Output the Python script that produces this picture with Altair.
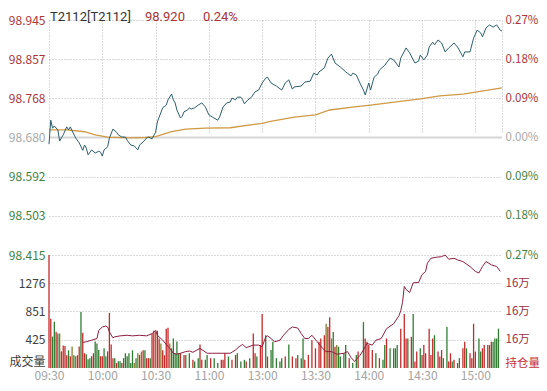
import altair as alt
import pandas as pd

FONT = "Noto Sans CJK SC"
HEAD_FONT = "Roboto"

# ---------------- data ----------------
time_labels = ['09:30', '10:00', '10:30', '11:00', '13:00', '13:30', '14:00', '14:30', '15:00', '']
prev_settle = 98.680
price_ticks = [98.415, 98.503, 98.592, 98.680, 98.768, 98.857, 98.945]
vol_ticks = [0, 425.33, 850.67, 1276]
oi_ticks = [159000, 160150, 161300, 162450]

price_minute = [0, 1, 2, 3, 5, 6, 8, 10, 11, 12, 13, 15, 17, 19, 20, 21, 22, 24, 26, 28, 29, 30, 31, 33, 34, 36, 38, 39,
                41, 43, 44, 46, 48, 50, 51, 53, 55, 56, 58, 60, 61, 62, 64, 66, 67, 69, 70, 71, 72, 74, 75, 76, 78, 79,
                80, 82, 84, 86, 88, 90, 92, 95, 96, 98, 100, 102, 103, 105, 106, 108, 109, 110, 112, 114, 116, 118,
                120, 122, 123, 125, 128, 131, 133, 135, 137, 138, 142, 144, 147, 149, 151, 152, 155, 157, 159, 161,
                164, 167, 168, 170, 171, 173, 175, 177, 178, 180, 181, 183, 185, 186, 189, 192, 194, 197, 198, 201,
                203, 206, 208, 209, 211, 213, 214, 216, 217, 219, 221, 223, 225, 228, 230, 233, 234, 237, 239, 241,
                243, 244, 246, 248, 250, 252, 254, 255]
price_value = [98.665, 98.719, 98.701, 98.706, 98.697, 98.672, 98.686, 98.704, 98.697, 98.704, 98.695, 98.679, 98.668,
               98.651, 98.663, 98.656, 98.641, 98.652, 98.645, 98.649, 98.647, 98.638, 98.652, 98.659, 98.679, 98.699,
               98.692, 98.686, 98.681, 98.681, 98.674, 98.663, 98.661, 98.652, 98.663, 98.670, 98.679, 98.681, 98.677,
               98.692, 98.715, 98.726, 98.747, 98.753, 98.765, 98.778, 98.765, 98.758, 98.742, 98.724, 98.728, 98.738,
               98.742, 98.747, 98.744, 98.747, 98.753, 98.758, 98.749, 98.731, 98.726, 98.719, 98.726, 98.749, 98.758,
               98.760, 98.769, 98.765, 98.771, 98.771, 98.765, 98.756, 98.765, 98.771, 98.783, 98.787, 98.803, 98.814,
               98.816, 98.803, 98.796, 98.787, 98.803, 98.810, 98.789, 98.794, 98.796, 98.805, 98.807, 98.825, 98.821,
               98.828, 98.837, 98.859, 98.868, 98.848, 98.839, 98.828, 98.825, 98.819, 98.825, 98.821, 98.803, 98.787,
               98.776, 98.803, 98.787, 98.816, 98.823, 98.832, 98.843, 98.859, 98.855, 98.839, 98.859, 98.882, 98.871,
               98.848, 98.852, 98.866, 98.855, 98.866, 98.884, 98.895, 98.889, 98.900, 98.893, 98.873, 98.882, 98.893,
               98.884, 98.862, 98.873, 98.873, 98.904, 98.922, 98.916, 98.907, 98.927, 98.934, 98.929, 98.934, 98.922,
               98.920]

avg_minute = [0, 10, 20, 26, 33, 45, 54, 60, 69, 77, 88, 102, 120, 124, 138, 150, 158, 172, 181, 209, 220, 233, 255]
avg_value = [98.697, 98.697, 98.693, 98.686, 98.681, 98.679, 98.680, 98.682, 98.693, 98.699, 98.701, 98.702, 98.712,
             98.716, 98.726, 98.731, 98.742, 98.749, 98.753, 98.767, 98.774, 98.778, 98.792]

vol_minute = list(range(0, 75)) + [
    76, 77, 79, 81, 82, 84, 85, 86, 88, 89, 91, 93, 95, 97, 98, 99, 101, 103, 105, 106, 108, 110, 111, 113, 115, 116,
    117, 119, 120, 122, 123, 125, 126, 128, 130, 131, 133, 135, 137, 139, 140, 142, 143, 144, 146, 148, 150, 152, 153,
    155, 156, 157, 158, 159, 160, 161, 162, 163, 164, 166, 167, 169, 171, 173, 174, 177, 178, 179, 180, 182, 184, 186,
    188, 189, 190, 192, 194, 195, 196, 198, 200, 201, 202, 204, 205, 206, 207, 209, 210, 211, 212, 214, 215, 216, 217,
    219, 220, 221, 222, 224, 225, 226, 227, 228, 230, 231, 233, 234, 235, 237, 238, 239, 240, 242, 243, 244, 245, 247,
    248, 249, 250, 251, 252, 253]
vol_value = [1700, 740, 473, 695, 547, 518, 518, 251, 340, 330, 192, 266, 177, 325, 192, 177, 192, 325, 843, 532,
             222, 207, 133, 148, 177, 222, 400, 370, 270, 177, 177, 296, 177, 251, 830, 355, 148, 148, 74, 100,
             100, 74, 148, 222, 177, 222, 74, 266, 74, 148, 222, 197, 247, 266, 266, 148, 148, 148, 518, 562,
             547, 562, 444, 370, 266, 192, 592, 606, 370, 296, 444, 222, 400, 222, 222,
             197, 197, 222, 123, 99, 148, 355, 123, 123, 197, 148, 148, 74, 123, 123, 222, 173, 123, 197, 222, 99, 123,
             99, 148, 518, 222, 173, 345, 813, 493, 173, 271, 395, 148, 99, 148, 173, 355, 173, 148, 197, 148, 444, 123,
             197, 419, 296, 395, 444, 493, 666, 617, 765, 444, 543, 321, 345, 321, 173, 222, 345, 148, 74, 197, 247,
             691, 444, 395, 345, 271, 222, 148, 123, 345, 444, 296, 296, 296, 345, 592, 813, 444, 444, 469, 813, 99,
             247, 296, 197, 345, 222, 592, 197, 444, 493, 247, 173, 271, 148, 617, 99, 222, 99, 123, 74, 148, 296,
             395, 296, 222, 148, 666, 247, 444, 247, 296, 345, 345, 345, 395, 395, 444, 444, 592]
vol_side = list("rrggrgorrr" "rgrogorrgr" "rgggrrgggr" "rggrrrrgrg" "grggggggog" "ororgrrgrr" "orrorrrrog"
                "ggggr"
                "rggrggrrgg" "rggrrrgrrg" "ggrgrrgrrg" "rgggggrgrr" "gggrrrrrrr" "orrogroggg" "grggrgrrrr"
                "grggrggggr" "rrgrgrrgrr" "rrrrgrrrgg" "rrgrrgrrgr" "rrrggrrrgr" "gggg")

oi_minute = [19, 21, 24, 27, 28, 30, 32, 33, 34, 36, 37, 40, 44, 47, 51, 55, 58, 60, 61, 62, 64, 66, 68, 70, 72, 74,
             77, 79, 81, 85, 89, 92, 98, 102, 105, 107, 109, 111, 115, 118, 120, 122, 123, 125, 127, 130, 132, 135,
             137, 140, 142, 144, 146, 148, 151, 154, 156, 159, 162, 166, 168, 170, 172, 175, 177, 179, 182, 184, 187,
             190, 194, 197, 198, 199, 200, 201, 203, 205, 208, 210, 212, 213, 215, 218, 221, 223, 225, 228, 230, 233,
             237, 240, 242, 244, 246, 249, 252, 254]
oi_value = [160040, 160068, 160132, 160200, 160532, 160668, 160708, 160668, 160468, 160228, 160268, 160308, 160332,
            160308, 160332, 160308, 160400, 160532, 160332, 160268, 160132, 159960, 159800, 159600, 159560, 159600,
            159668, 159692, 159640, 159800, 159600, 159600, 159600, 159600, 159732, 159868, 159960, 159828, 159932,
            159932, 159868, 160268, 160308, 160200, 160068, 160132, 160332, 160572, 160668, 160628, 160400, 160200,
            160200, 160332, 160068, 159800, 159668, 159668, 159560, 159600, 159668, 159428, 159268, 159508, 159732,
            160000, 159932, 160132, 160200, 160600, 160800, 161132, 161332, 161668, 162320, 162200, 162068, 162468,
            162480, 162800, 162932, 163268, 163468, 163508, 163532, 163600, 163428, 163468, 163400, 163332, 163132,
            162932, 162868, 163132, 163332, 163200, 163132, 162932]

n = min(len(vol_minute), len(vol_value), len(vol_side))
price_df = pd.DataFrame({"m": price_minute, "p": price_value})
avg_df = pd.DataFrame({"m": avg_minute, "p": avg_value})
vol_df = pd.DataFrame({"m": vol_minute[:n], "v": vol_value[:n], "s": vol_side[:n]})
oi_df = pd.DataFrame({"m": oi_minute, "oi": oi_value})
base_df = pd.DataFrame({"p": [prev_settle]})

# ---------------- layout ----------------
PLOT_W, PLOT_H = 453, 348
PRICE_BOTTOM = 235          # pixel row where the price panel ends / volume panel begins

x_enc = alt.X("m:Q", title=None,
              scale=alt.Scale(domain=[0, 255], nice=False, zero=False),
              axis=alt.Axis(values=[0, 30, 60, 90, 120, 150, 180, 210, 240, 255],
                            labelExpr="%s[round(datum.value / 30)]" % str(time_labels),
                            grid=True, labelColor="#a3a3a3", labelPadding=2, labelFlush=False,
                            labelFontSize=12))
price_scale = alt.Scale(domain=[98.415, 98.945], range=[PRICE_BOTTOM, 0], nice=False, zero=False)
vol_scale = alt.Scale(domain=[0, 1701], range=[PLOT_H, PRICE_BOTTOM], nice=False, zero=True)
oi_scale = alt.Scale(domain=[159000, 163600], range=[PLOT_H, PRICE_BOTTOM], nice=False, zero=False)

color_expr = "datum.value > 98.69 ? '#ad3539' : (datum.value < 98.67 ? '#3f7f3f' : '#a8a8a8')"

price_left = alt.Axis(orient="left", values=price_ticks, format=".3f", grid=True,
                      labelColor={"expr": color_expr}, labelPadding=4)
price_right = alt.Axis(orient="right", values=price_ticks, grid=False, labelFontSize=11.5,
                       labelExpr="format(abs(datum.value - %s) / %s * 100, '.2f') + '%%'" % (prev_settle, prev_settle),
                       labelColor={"expr": color_expr}, labelPadding=3)
vol_left = alt.Axis(orient="left", values=vol_ticks, grid=True, labelFlush=True,
                    labelExpr="datum.value == 0 ? '成交量' : format(datum.value, '.0f')",
                    gridOpacity={"expr": "datum.value == 0 ? 0 : 1"},
                    labelColor="#404040", labelPadding=4)
oi_right = alt.Axis(orient="right", values=oi_ticks, grid=False, labelFlush=True, labelFontSize=11.5,
                    labelExpr="datum.value < 159500 ? '持仓量' : '16万'",
                    labelColor={"expr": "datum.value < 159500 ? '#c6303a' : '#9c2f45'"},
                    labelPadding=3)

base_rule = alt.Chart(base_df).mark_rule(color="#d6d6d6", strokeWidth=2).encode(
    y=alt.Y("p:Q", scale=price_scale, axis=None))

bars = alt.Chart(vol_df).mark_rule(strokeWidth=1.3).encode(
    x=x_enc,
    y=alt.Y("v:Q", scale=vol_scale, axis=vol_left, title=None),
    y2=alt.datum(0),
    color=alt.Color("s:N", legend=None,
                    scale=alt.Scale(domain=["r", "g", "o"], range=["#c42b2b", "#2f7d32", "#8c7a2a"])))

oi_line = alt.Chart(oi_df).mark_line(color="#8e1f3f", strokeWidth=1).encode(
    x=x_enc, y=alt.Y("oi:Q", scale=oi_scale, axis=oi_right, title=None))

avg_line = alt.Chart(avg_df).mark_line(color="#cf9a45", strokeWidth=1.3).encode(
    x=x_enc, y=alt.Y("p:Q", scale=price_scale, axis=price_right, title=None))

price_line = alt.Chart(price_df).mark_line(color="#2c5f6c", strokeWidth=1).encode(
    x=x_enc, y=alt.Y("p:Q", scale=price_scale, axis=price_left, title=None))


def header(txt, xpos, col):
    return alt.Chart(pd.DataFrame({"t": [txt]})).mark_text(
        align="left", baseline="alphabetic", fontSize=13, font=HEAD_FONT, color=col).encode(
        text="t:N", x=alt.value(xpos), y=alt.value(0.5))


chart = alt.layer(
    base_rule, bars, oi_line, avg_line, price_line,
    header("T2112[T2112]", 1, "#333333"),
    header("98.920", 96, "#a83236"),
    header("0.24%", 154, "#a83236"),
).resolve_scale(y="independent", color="independent").properties(
    width=PLOT_W, height=PLOT_H,
    autosize=alt.AutoSizeParams(type="none"),
    padding={"left": 41, "top": 12, "right": 37, "bottom": 15},
).configure_view(stroke=None).configure_axis(
    labelFont=FONT, labelFontSize=12, ticks=False, domain=False,
    gridDash=[1, 2], gridColor="#b5b5b5", gridWidth=1, title=None)

chart.save("out.html", embed_options={"renderer": "svg", "actions": False})
